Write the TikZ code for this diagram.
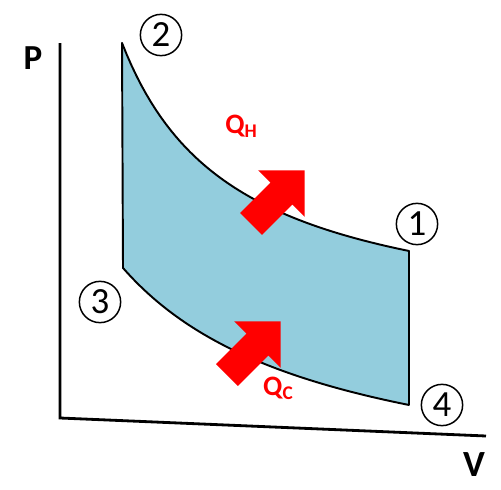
\documentclass[tikz,border=0pt]{standalone}
\usepackage{fontspec}
\setmainfont{Carlito}
\definecolor{cyclefill}{RGB}{147,205,221}
\definecolor{heatred}{RGB}{255,0,0}
\tikzset{
  state/.style={draw,circle,line width=0.85pt,inner sep=0pt,minimum size=23.5pt,font=\fontsize{21}{21}\selectfont},
  axislabel/.style={font=\bfseries\fontsize{20}{20}\selectfont},
  heatlabel/.style={text=heatred,font=\bfseries\fontsize{16}{16}\selectfont},
  heat arrow/.pic={
    \fill[heatred] (0,-15.5) -- (43,-15.5) -- (43,-33) -- (76,0) -- (43,33) -- (43,15.5) -- (0,15.5) -- cycle;
  }
}
\newcommand{\heatsub}[1]{{\fontsize{11}{11}\selectfont\raisebox{-2.3pt}{#1}}}
\begin{document}
\begin{tikzpicture}[x=0.02cm,y=-0.02cm]
\useasboundingbox (0,0) rectangle (501,490);
% axes
\coordinate (ptop) at (60,43);
\coordinate (origin) at (60,418);
\coordinate (vend) at (486,436);
\draw[line width=1.6pt] (ptop) -- (origin) -- (vend);
\node[axislabel] (plabel) at (33,58) {P};
\node[axislabel,font=\bfseries\fontsize{21}{21}\selectfont] (vlabel) at (474,465) {V};
% cycle corners
\coordinate (s2) at (122,43);
\coordinate (s1) at (409,251);
\coordinate (s4) at (409,405);
\coordinate (s3) at (123,268);
\filldraw[fill=cyclefill,line width=1.1pt,line join=round] (s2)
  -- plot[domain=122:409,samples=60] (\x,{332.8-327.22/((\x-9.12)/100)})
  -- (s4)
  -- plot[domain=409:123,samples=60] (\x,{503.9-487.2/((\x+83.5)/100)})
  -- cycle;
% states
\node[state] (n2) at (161,35) {2};
\node[state] (n1) at (417,224) {1};
\node[state] (n3) at (100,302) {3};
\node[state] (n4) at (442,405) {4};
% heat in and out
\pic[rotate=45] at (251,224) {heat arrow};
\pic[rotate=45] at (227,375) {heat arrow};
\node[heatlabel] (qh) at (241,126) {Q\heatsub{H}};
\node[heatlabel] (qc) at (278,388) {Q\heatsub{C}};
\end{tikzpicture}
\end{document}
